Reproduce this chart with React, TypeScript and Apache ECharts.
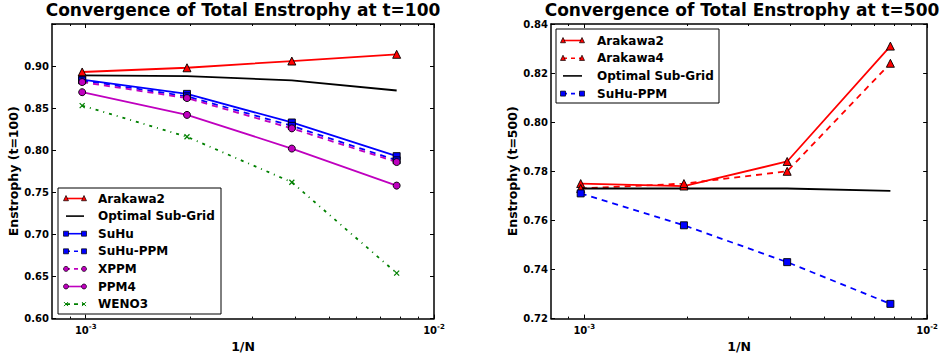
import React, { useEffect, useRef } from 'react';
import * as echarts from 'echarts';

// 1/N values (N = 1024, 512, 256, 128)
const invN = [0.0009765625, 0.001953125, 0.00390625, 0.0078125];

// Enstrophy at t=100
const arakawa2_100 = [0.893, 0.898, 0.906, 0.914];
const optimal_100 = [0.889, 0.888, 0.883, 0.871];
const suhu_100 = [0.884, 0.867, 0.833, 0.793];
const suhuPPM_100 = [0.883, 0.864, 0.829, 0.788];
const xppm_100 = [0.881, 0.862, 0.826, 0.786];
const ppm4_100 = [0.869, 0.842, 0.802, 0.758];
const weno3_100 = [0.853, 0.816, 0.762, 0.654];

// Enstrophy at t=500
const arakawa2_500 = [0.775, 0.774, 0.784, 0.831];
const arakawa4_500 = [0.773, 0.775, 0.78, 0.824];
const optimal_500 = [0.773, 0.773, 0.773, 0.772];
const suhuPPM_500 = [0.771, 0.758, 0.743, 0.726];

const xMajorTicks = [0.001, 0.01];
const xMinorTicks = [0.0009, 0.002, 0.003, 0.004, 0.005, 0.006, 0.007, 0.008, 0.009];

const titles = ['Convergence of Total Enstrophy at t=100', 'Convergence of Total Enstrophy at t=500'];
const yNames = ['Enstrophy (t=100)', 'Enstrophy (t=500)'];
const xName = '1/N';

const FONT = 'DejaVu Sans';
const RED = '#ff0000';
const BLUE = '#0000ff';
const MAG = '#bf00bf';
const GREEN = '#008000';
const BLACK = '#000000';
const DASH = [6, 5];
const DASHDOT = [3, 5, 1, 5];
const LW = 1.8;

type Marker = 'tri' | 'sq' | 'circ' | 'x' | 'none';
interface SeriesDef { name: string; ys: number[]; color: string; dash: number[] | null; marker: Marker }

const left: SeriesDef[] = [
  { name: 'Arakawa2', ys: arakawa2_100, color: RED, dash: null, marker: 'tri' },
  { name: 'Optimal Sub-Grid', ys: optimal_100, color: BLACK, dash: null, marker: 'none' },
  { name: 'SuHu', ys: suhu_100, color: BLUE, dash: null, marker: 'sq' },
  { name: 'SuHu-PPM', ys: suhuPPM_100, color: BLUE, dash: DASH, marker: 'sq' },
  { name: 'XPPM', ys: xppm_100, color: MAG, dash: DASH, marker: 'circ' },
  { name: 'PPM4', ys: ppm4_100, color: MAG, dash: null, marker: 'circ' },
  { name: 'WENO3', ys: weno3_100, color: GREEN, dash: DASHDOT, marker: 'x' },
];
const right: SeriesDef[] = [
  { name: 'Arakawa2', ys: arakawa2_500, color: RED, dash: null, marker: 'tri' },
  { name: 'Arakawa4', ys: arakawa4_500, color: RED, dash: DASH, marker: 'tri' },
  { name: 'Optimal Sub-Grid', ys: optimal_500, color: BLACK, dash: null, marker: 'none' },
  { name: 'SuHu-PPM', ys: suhuPPM_500, color: BLUE, dash: DASH, marker: 'sq' },
];

const symbolOf = (m: Marker) =>
  m === 'tri' ? 'triangle' : m === 'sq' ? 'rect' : m === 'circ' ? 'circle' : m === 'x' ? 'path://M0,0L10,10M10,0L0,10' : 'none';
const sizeOf = (m: Marker) => (m === 'tri' ? 8 : m === 'x' ? 5 : 7);

function makeSeries(defs: SeriesDef[], xi: number, yi: number) {
  return defs.map((d) => ({
    type: 'line',
    name: d.name,
    xAxisIndex: xi,
    yAxisIndex: yi,
    data: d.ys.map((y, i) => [invN[i], y]),
    symbol: symbolOf(d.marker),
    symbolSize: sizeOf(d.marker),
    showSymbol: d.marker !== 'none',
    lineStyle: { color: d.color, width: LW, type: d.dash ? d.dash : 'solid' },
    itemStyle:
      d.marker === 'x'
        ? { color: d.color, borderColor: d.color, borderWidth: 1.2 }
        : { color: d.color, borderColor: '#000', borderWidth: 0.9 },
    emphasis: { disabled: true },
    z: 3,
  }));
}

function legendGraphics(
  box: { x: number; y: number; w: number; h: number },
  defs: SeriesDef[],
  rowY0: number,
  rowDy: number,
  hx0: number,
  hx1: number,
  tx: number
) {
  const els: any[] = [];
  els.push({
    type: 'rect',
    shape: { x: box.x, y: box.y, width: box.w, height: box.h },
    style: { fill: '#fff', stroke: '#000', lineWidth: 1 },
    z: 100,
  });
  defs.forEach((d, i) => {
    const cy = rowY0 + i * rowDy;
    els.push({
      type: 'line',
      shape: { x1: hx0, y1: cy, x2: hx1, y2: cy },
      style: { stroke: d.color, lineWidth: 1.6, lineDash: d.dash ? [4, 4] : null },
      z: 101,
    });
    [hx0, hx1].forEach((cx) => {
      const s = 5;
      if (d.marker === 'tri') {
        els.push({
          type: 'polygon',
          shape: { points: [[cx, cy - s * 0.6], [cx - s / 2, cy + s * 0.45], [cx + s / 2, cy + s * 0.45]] },
          style: { fill: d.color, stroke: '#000', lineWidth: 0.7 },
          z: 102,
        });
      } else if (d.marker === 'sq') {
        els.push({
          type: 'rect',
          shape: { x: cx - s / 2, y: cy - s / 2, width: s, height: s },
          style: { fill: d.color, stroke: '#000', lineWidth: 0.7 },
          z: 102,
        });
      } else if (d.marker === 'circ') {
        els.push({
          type: 'circle',
          shape: { cx, cy, r: s / 2 },
          style: { fill: d.color, stroke: '#000', lineWidth: 0.7 },
          z: 102,
        });
      } else if (d.marker === 'x') {
        const r = 2;
        els.push({ type: 'line', shape: { x1: cx - r, y1: cy - r, x2: cx + r, y2: cy + r }, style: { stroke: d.color, lineWidth: 1 }, z: 102 });
        els.push({ type: 'line', shape: { x1: cx - r, y1: cy + r, x2: cx + r, y2: cy - r }, style: { stroke: d.color, lineWidth: 1 }, z: 102 });
      }
    });
    els.push({
      type: 'text',
      x: tx,
      y: cy,
      style: { text: d.name, fill: '#000', font: `bold 12px "${FONT}"`, verticalAlign: 'middle', align: 'left' },
      z: 102,
    });
  });
  return els;
}

const labelFmt = (v: number) => '10{sup|' + Math.round(Math.log10(v)) + '}';

function xAxesFor(gridIndex: number) {
  const base = {
    type: 'log',
    logBase: 10,
    min: 0.0008,
    max: 0.01,
    gridIndex,
    splitLine: { show: false },
    axisPointer: { show: false },
  };
  return [
    {
      ...base,
      position: 'bottom',
      axisLine: { show: true, onZero: false, lineStyle: { color: '#000', width: 1.5 } },
      axisTick: { show: true, inside: true, length: 4, customValues: xMajorTicks, lineStyle: { color: '#000', width: 1 } },
      axisLabel: {
        show: true,
        customValues: xMajorTicks,
        formatter: labelFmt,
        color: '#000',
        fontFamily: FONT,
        fontWeight: 'bold',
        fontSize: 10,
        margin: 5,
        rich: { sup: { fontFamily: FONT, fontWeight: 'bold', fontSize: 7, color: '#000', padding: [0, 0, 6, 0] } },
      },
      name: xName,
      nameLocation: 'middle',
      nameGap: 17,
      nameTextStyle: { color: '#000', fontFamily: FONT, fontWeight: 'bold', fontSize: 12.5 },
    },
    {
      ...base,
      position: 'bottom',
      axisLine: { show: false, onZero: false },
      axisTick: { show: true, inside: true, length: 2, customValues: xMinorTicks, lineStyle: { color: '#000', width: 1 } },
      axisLabel: { show: false },
    },
    {
      ...base,
      position: 'top',
      axisLine: { show: true, onZero: false, lineStyle: { color: '#000', width: 1.5 } },
      axisTick: { show: true, inside: true, length: 4, customValues: xMajorTicks, lineStyle: { color: '#000', width: 1 } },
      axisLabel: { show: false },
    },
    {
      ...base,
      position: 'top',
      axisLine: { show: false, onZero: false },
      axisTick: { show: true, inside: true, length: 2, customValues: xMinorTicks, lineStyle: { color: '#000', width: 1 } },
      axisLabel: { show: false },
    },
  ];
}

function yAxesFor(gridIndex: number, min: number, max: number, interval: number, name: string) {
  const base = { type: 'value', gridIndex, min, max, interval, splitLine: { show: false }, axisPointer: { show: false } };
  return [
    {
      ...base,
      position: 'left',
      axisLine: { show: true, onZero: false, lineStyle: { color: '#000', width: 1.5 } },
      axisTick: { show: true, inside: true, length: 4, lineStyle: { color: '#000', width: 1 } },
      axisLabel: {
        color: '#000',
        fontFamily: FONT,
        fontWeight: 'bold',
        fontSize: 10,
        margin: 3,
        formatter: (v: number) => (v > max - interval / 2 && gridIndex === 0 ? '' : v.toFixed(2)),
      },
      name,
      nameLocation: 'middle',
      nameGap: 31,
      nameRotate: 90,
      nameTextStyle: { color: '#000', fontFamily: FONT, fontWeight: 'bold', fontSize: 12.5 },
    },
    {
      ...base,
      position: 'right',
      axisLine: { show: true, onZero: false, lineStyle: { color: '#000', width: 1.5 } },
      axisTick: { show: true, inside: true, length: 4, lineStyle: { color: '#000', width: 1 } },
      axisLabel: { show: false },
    },
  ];
}

export default function App() {
  const ref = useRef<HTMLDivElement>(null);
  useEffect(() => {
    if (!ref.current) return;
    const chart = echarts.init(ref.current, null, { renderer: 'svg' });
    const option: any = {
      animation: false,
      backgroundColor: '#ffffff',
      title: [
        {
          text: titles[0],
          left: 243,
          top: 1,
          padding: 0,
          textAlign: 'center',
          textStyle: { fontFamily: FONT, fontWeight: 'bold', fontSize: 17, color: '#000' },
        },
        {
          text: titles[1],
          left: 742,
          top: 1,
          padding: 0,
          textAlign: 'center',
          textStyle: { fontFamily: FONT, fontWeight: 'bold', fontSize: 17, color: '#000' },
        },
      ],
      grid: [
        { left: 52, top: 24, width: 382, height: 296, containLabel: false },
        { left: 551, top: 24, width: 381, height: 296, containLabel: false },
      ],
      xAxis: [...xAxesFor(0), ...xAxesFor(1)],
      yAxis: [...yAxesFor(0, 0.6, 0.95, 0.05, yNames[0]), ...yAxesFor(1, 0.72, 0.84, 0.02, yNames[1])],
      series: [...makeSeries(left, 0, 0), ...makeSeries(right, 4, 2)],
      graphic: [
        ...legendGraphics({ x: 58, y: 188, w: 163, h: 126 }, left, 198.5, 17.6, 66, 84, 98),
        ...legendGraphics({ x: 556, y: 29, w: 163, h: 74 }, right, 40.5, 17.7, 563, 582, 597),
      ],
    };
    chart.setOption(option);
    return () => chart.dispose();
  }, []);
  return <div ref={ref} style={{ position: 'fixed', left: 0, top: 0, width: 941, height: 358 }} />;
}
